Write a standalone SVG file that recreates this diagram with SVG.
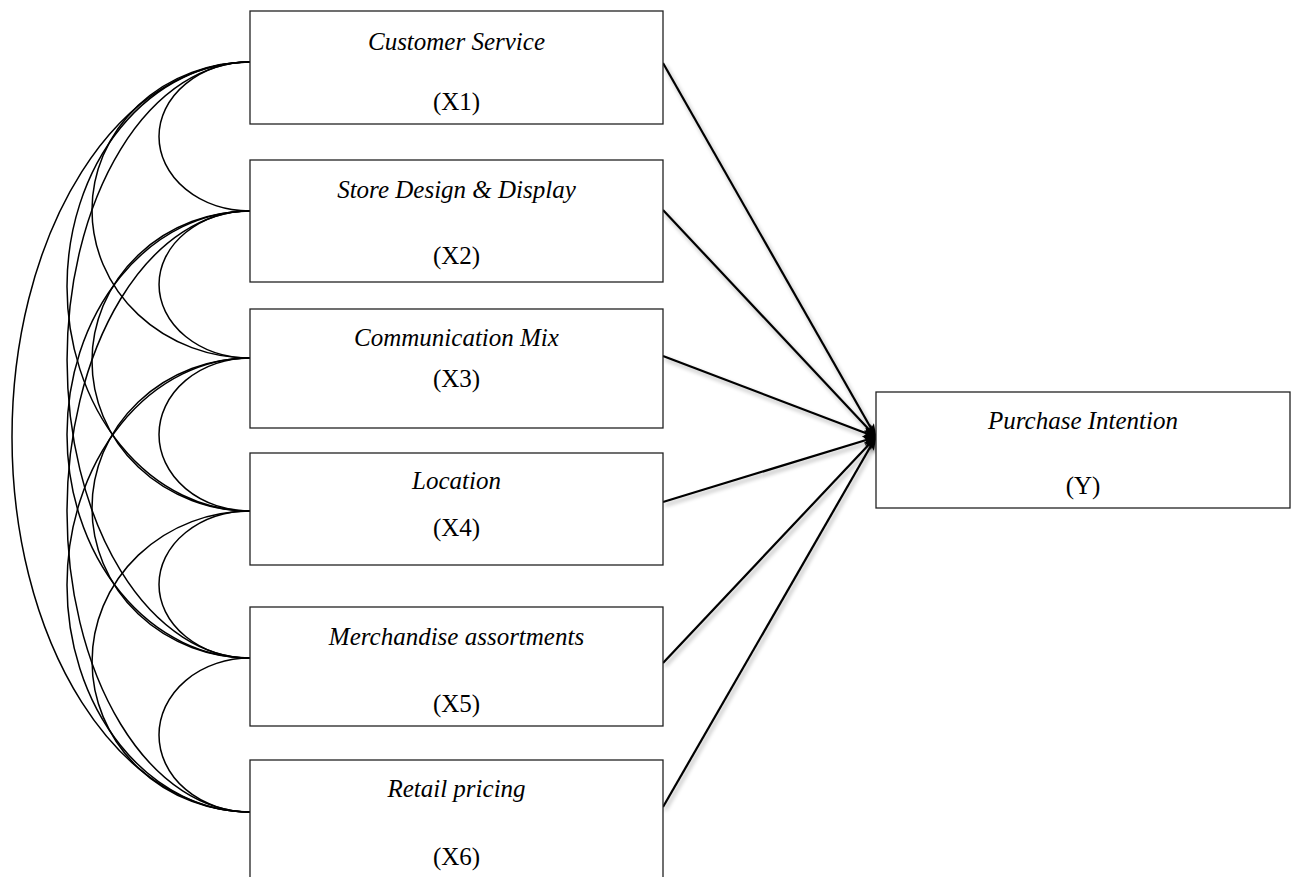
<svg xmlns="http://www.w3.org/2000/svg" width="1299" height="877" viewBox="0 0 1299 877">
<style>
.box{fill:#fff;stroke:#222;stroke-width:1.3}
.lbl{font-family:"Liberation Serif","Times New Roman",serif;font-style:italic;font-size:25px;fill:#000;text-anchor:middle}
.code{font-family:"Liberation Serif","Times New Roman",serif;font-size:25px;fill:#000;text-anchor:middle}
.cov{fill:none;stroke:#000;stroke-width:1.5}
.path{fill:none;stroke:#000;stroke-width:2.2;marker-end:url(#ah);filter:url(#sh)}
</style>
<defs>
<marker id="ah" markerUnits="userSpaceOnUse" markerWidth="14" markerHeight="10" viewBox="0 0 14 10" refX="13" refY="5" orient="auto">
<path d="M0,0 L14,5 L0,10 L3,5 Z" fill="#000"/>
</marker>
<filter id="sh" x="-20%" y="-20%" width="140%" height="140%">
<feGaussianBlur in="SourceAlpha" stdDeviation="2"/>
<feOffset dx="2" dy="3" result="b"/>
<feComponentTransfer><feFuncA type="linear" slope="0.35"/></feComponentTransfer>
<feMerge><feMergeNode/><feMergeNode in="SourceGraphic"/></feMerge>
</filter>
</defs>
<g id="connectors">
<path class="cov" d="M250,62 A91,74.5 0 0 0 250,211"/>
<path class="cov" d="M250,211 A91,73.5 0 0 0 250,358"/>
<path class="cov" d="M250,358 A91,76.5 0 0 0 250,511"/>
<path class="cov" d="M250,511 A91,73.5 0 0 0 250,658"/>
<path class="cov" d="M250,658 A91,77 0 0 0 250,812"/>
<path class="cov" d="M250,62 A158,148 0 0 0 250,358"/>
<path class="cov" d="M250,211 A158,150 0 0 0 250,511"/>
<path class="cov" d="M250,358 A158,150 0 0 0 250,658"/>
<path class="cov" d="M250,511 A158,150.5 0 0 0 250,812"/>
<path class="cov" d="M250,62 A183,224.5 0 0 0 250,511"/>
<path class="cov" d="M250,211 A183,223.5 0 0 0 250,658"/>
<path class="cov" d="M250,358 A183,227 0 0 0 250,812"/>
<path class="cov" d="M250,62 A183,298 0 0 0 250,658"/>
<path class="cov" d="M250,211 A183,300.5 0 0 0 250,812"/>
<path class="cov" d="M250,62 A238,375 0 0 0 250,812"/>
<path class="path" d="M663,63 L876,437"/>
<path class="path" d="M663,210 L876,437"/>
<path class="path" d="M663,356 L876,437"/>
<path class="path" d="M663,502 L876,437"/>
<path class="path" d="M663,663 L876,437"/>
<path class="path" d="M663,807 L876,437"/>
</g>
<g id="x1"><rect class="box" x="250" y="11" width="413" height="113"/><text class="lbl" x="456.5" y="50">Customer Service</text><text class="code" x="456.5" y="110">(X1)</text></g>
<g id="x2"><rect class="box" x="250" y="160" width="413" height="122"/><text class="lbl" x="456.5" y="198">Store Design &amp; Display</text><text class="code" x="456.5" y="264">(X2)</text></g>
<g id="x3"><rect class="box" x="250" y="309" width="413" height="119"/><text class="lbl" x="456.5" y="346">Communication Mix</text><text class="code" x="456.5" y="387">(X3)</text></g>
<g id="x4"><rect class="box" x="250" y="453" width="413" height="112"/><text class="lbl" x="456.5" y="489">Location</text><text class="code" x="456.5" y="536">(X4)</text></g>
<g id="x5"><rect class="box" x="250" y="607" width="413" height="119"/><text class="lbl" x="456.5" y="645">Merchandise assortments</text><text class="code" x="456.5" y="712">(X5)</text></g>
<g id="x6"><rect class="box" x="250" y="760" width="413" height="130"/><text class="lbl" x="456.5" y="797">Retail pricing</text><text class="code" x="456.5" y="865">(X6)</text></g>
<g id="y"><rect class="box" x="876" y="392" width="414" height="116"/><text class="lbl" x="1083" y="429">Purchase Intention</text><text class="code" x="1083" y="494">(Y)</text></g>
</svg>
